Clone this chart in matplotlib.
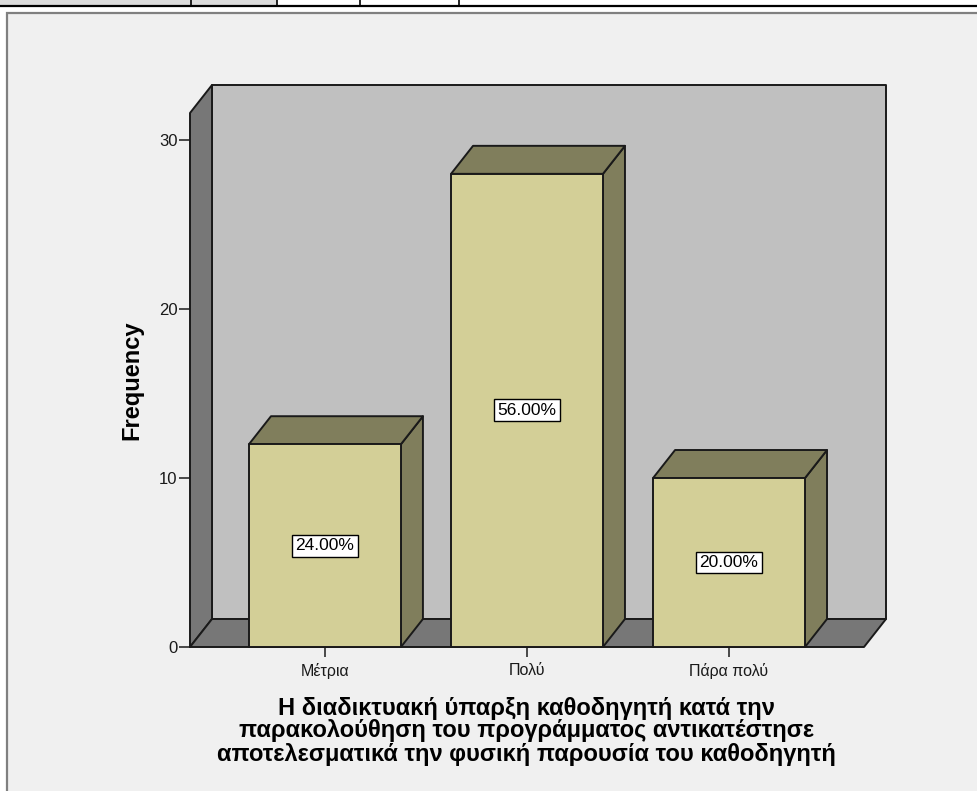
import matplotlib
matplotlib.use('Agg')
import matplotlib.pyplot as plt
from matplotlib.patches import Polygon, Rectangle

# frequencies of the answers
categories = ['Μέτρια', 'Πολύ', 'Πάρα πολύ']
counts = [12, 28, 10]
percents = ['24.00%', '56.00%', '20.00%']
yticks = [0, 10, 20, 30]
ylabel = 'Frequency'
xtitle = ('Η διαδικτυακή ύπαρξη καθοδηγητή κατά την\n'
          'παρακολούθηση του προγράμματος αντικατέστησε\n'
          'αποτελεσματικά την φυσική παρουσία του καθοδηγητή')

plt.rcParams['font.family'] = ['Liberation Sans', 'DejaVu Sans']

W, H = 977, 791
fig = plt.figure(figsize=(W / 100, H / 100), dpi=100)
fig.patch.set_facecolor('white')

def fx(px):
    return px / W

def fy(py):
    return 1 - py / H

# bit of the table above the chart
fig.patches.append(Rectangle((0, fy(5)), fx(277), fy(0) - fy(5), transform=fig.transFigure,
                             facecolor='#dcdcdc', edgecolor='none', zorder=-10))
fig.lines.append(plt.Line2D([0, 1], [fy(5.5), fy(5.5)], transform=fig.transFigure, color='black',
                            lw=1.6, zorder=-9))
for vx in [191, 277, 360, 459]:
    fig.lines.append(plt.Line2D([fx(vx), fx(vx)], [fy(0), fy(5)], transform=fig.transFigure,
                                color='black', lw=1.2, zorder=-9))

# chart frame
fig.patches.append(Rectangle((fx(7), fy(800)), fx(1000), fy(13.5) - fy(800), transform=fig.transFigure,
                             facecolor='#f0f0f0', edgecolor='#808080', lw=1.6, zorder=-10))

# front plane of the plot area
ax = fig.add_axes([fx(190), fy(647), fx(674), fy(113) - fy(647)])
ax.set_xlim(-0.668, 2.668)
ax.set_ylim(0, 31.6)
ax.patch.set_visible(False)
for s in ax.spines.values():
    s.set_visible(False)

x0, x1 = ax.get_xlim()
y0, y1 = ax.get_ylim()
# depth of the 3d effect, converted from pixels to data units
ddx = 22 * (x1 - x0) / ax.bbox.width
ddy = 28 * (y1 - y0) / ax.bbox.height

EDGE = dict(edgecolor='#1a1a1a', lw=1.4, clip_on=False, joinstyle='round')

# walls and floor
ax.add_patch(Polygon([(x0 + ddx, ddy), (x1 + ddx, ddy), (x1 + ddx, y1 + ddy), (x0 + ddx, y1 + ddy)],
                     facecolor='#c0c0c0', zorder=1, **EDGE))
ax.add_patch(Polygon([(x0, 0), (x0 + ddx, ddy), (x0 + ddx, y1 + ddy), (x0, y1)],
                     facecolor='#777777', zorder=1, **EDGE))
ax.add_patch(Polygon([(x0, 0), (x1, 0), (x1 + ddx, ddy), (x0 + ddx, ddy)],
                     facecolor='#777777', zorder=1, **EDGE))

bw = 0.752
for i, c in enumerate(counts):
    l, r = i - bw / 2, i + bw / 2
    ax.add_patch(Polygon([(r, 0), (r + ddx, ddy), (r + ddx, c + ddy), (r, c)],
                         facecolor='#807e5c', zorder=2, **EDGE))
    ax.add_patch(Polygon([(l, c), (r, c), (r + ddx, c + ddy), (l + ddx, c + ddy)],
                         facecolor='#807e5c', zorder=2, **EDGE))
    ax.add_patch(Rectangle((l, 0), bw, c, facecolor='#d3cf97', zorder=3, **EDGE))
    ax.text(i, c / 2, percents[i], ha='center', va='center', fontsize=12.5, zorder=4,
            bbox=dict(boxstyle='square,pad=0.2', facecolor='white', edgecolor='black', lw=1))

ax.set_yticks(yticks)
ax.set_xticks(range(len(categories)))
ax.set_xticklabels(categories)
ax.tick_params(axis='y', direction='out', length=8, width=1.1, pad=1, labelsize=12, colors='#1a1a1a')
ax.tick_params(axis='x', direction='out', length=7.5, width=1.1, pad=4, labelsize=11.5, colors='#1a1a1a')

ax.text(fx(132 - 190) * W / ax.bbox.width, 0.5, ylabel, transform=ax.transAxes, rotation=90,
        ha='center', va='center', fontsize=17, fontweight='bold')

fig.text(fx(526.5), fy(731), xtitle, ha='center', va='center', fontsize=17,
         fontweight='bold', linespacing=1.0)

fig.savefig('out.png', dpi=100, facecolor=fig.get_facecolor())
